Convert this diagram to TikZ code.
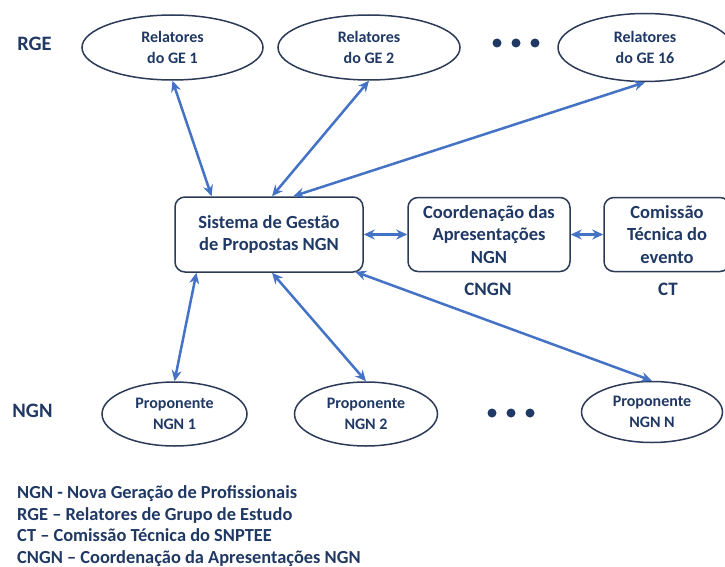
\documentclass[tikz,border=0pt]{standalone}
\usepackage{fontspec}
\setmainfont{Carlito}
\usetikzlibrary{shapes.geometric,arrows.meta,calc}
\definecolor{navy}{HTML}{1F3864}
\definecolor{edgenavy}{HTML}{2B3A57}
\definecolor{arrowblue}{HTML}{4472C4}
\begin{document}
\begin{tikzpicture}[x=1pt,y=-1pt,
  ell/.style={ellipse, draw=edgenavy, line width=1.5pt, text=navy,
    font=\bfseries\fontsize{16}{21}\selectfont, align=center, inner sep=0pt},
  box/.style={rectangle, rounded corners=10pt, draw=edgenavy, line width=1.5pt, text=navy,
    font=\bfseries\fontsize{18.5}{22.5}\selectfont, align=center, inner sep=0pt},
  lbl/.style={text=navy, font=\bfseries\fontsize{20.5}{24}\selectfont, inner sep=0pt},
  sublbl/.style={text=navy, font=\bfseries\fontsize{19}{23}\selectfont, inner sep=0pt},
  leg/.style={text=navy, font=\bfseries\fontsize{18.4}{22}\selectfont, inner sep=0pt, anchor=base west},
  link/.style={arrowblue, line width=2.5pt, {Stealth[length=11pt,width=10pt]}-{Stealth[length=11pt,width=10pt]}},
  dotmark/.style={circle, fill=navy, inner sep=0pt, minimum size=9pt}
]
\useasboundingbox (0,0) rectangle (725,567);

% side labels
\node[lbl] (rge) at (34.5,44) {RGE};
\node[lbl] (ngn) at (32.5,411) {NGN};

% top ellipses
\node[ell, minimum width=181pt, minimum height=65pt] (g1) at (172.5,47.5) {Relatores\\do GE 1};
\node[ell, minimum width=182pt, minimum height=65pt] (g2) at (369,47.5) {Relatores\\do GE 2};
\node[ell, minimum width=174pt, minimum height=68pt] (g16) at (645,47.5) {Relatores\\do GE 16};
\node[dotmark] (td1) at (497,43) {};
\node[dotmark] (td2) at (516,43) {};
\node[dotmark] (td3) at (535,43) {};

% middle boxes
\node[box, minimum width=188pt, minimum height=75pt] (sys) at (269,234.5) {Sistema de Gestão\\de Propostas NGN};
\node[box, minimum width=162pt, minimum height=74pt] (cngn) at (489,234.5) {Coordenação das\\Apresentações\\NGN};
\node[box, minimum width=126pt, minimum height=74pt] (ct) at (667,234.5) {Comissão\\Técnica do\\evento};
\node[sublbl] (cngnl) at (488,289) {CNGN};
\node[sublbl] (ctl) at (668,289) {CT};

% bottom ellipses
\node[ell, minimum width=145pt, minimum height=64pt] (p1) at (174.5,414) {Proponente\\NGN 1};
\node[ell, minimum width=143pt, minimum height=64pt] (p2) at (366,414) {Proponente\\NGN 2};
\node[ell, minimum width=141pt, minimum height=61pt] (pn) at (652,412) {Proponente\\NGN N};
\node[dotmark] (bd1) at (492,413) {};
\node[dotmark] (bd2) at (511,413) {};
\node[dotmark] (bd3) at (530,413) {};

% connectors
\draw[link] (g1.south) -- ($(sys.north west)!0.197!(sys.north east)$);
\draw[link] (g2.south) -- ($(sys.north west)!0.516!(sys.north east)$);
\draw[link] (g16.south) -- ($(sys.north west)!0.628!(sys.north east)$);
\draw[link] (sys.east) -- (cngn.west);
\draw[link] (cngn.east) -- (ct.west);
\draw[link] ($(sys.south west)!0.117!(sys.south east)$) -- (p1.north);
\draw[link] ($(sys.south west)!0.516!(sys.south east)$) -- (p2.north);
\draw[link] ($(sys.south west)!0.955!(sys.south east)+(0,-1)$) -- (pn.north);

% legend
\node[leg] (l1) at (17,498) {NGN - Nova Geração de Profissionais};
\node[leg] (l2) at (17,520) {RGE – Relatores de Grupo de Estudo};
\node[leg] (l3) at (17,541.5) {CT – Comissão Técnica do SNPTEE};
\node[leg] (l4) at (17,563) {CNGN – Coordenação da Apresentações NGN};
\end{tikzpicture}
\end{document}
